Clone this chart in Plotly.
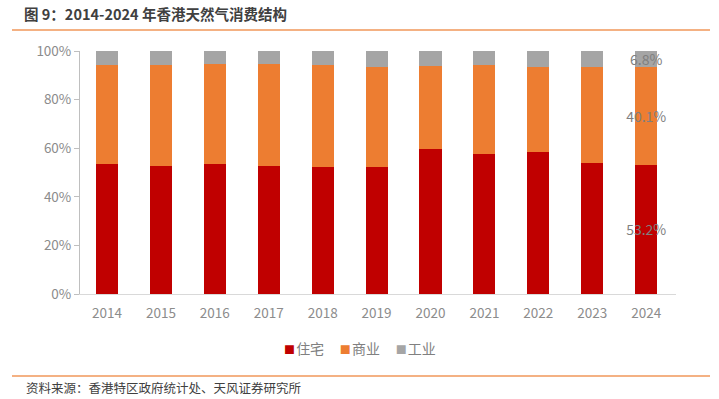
import plotly.graph_objects as go

years = ["2014", "2015", "2016", "2017", "2018", "2019", "2020", "2021", "2022", "2023", "2024"]
residential = [53.4, 52.7, 53.6, 52.7, 52.3, 52.3, 59.7, 57.7, 58.4, 53.9, 53.2]
commercial = [40.8, 41.4, 41.2, 42.0, 41.9, 41.2, 34.1, 36.5, 35.1, 39.6, 40.1]
industrial = [5.8, 5.9, 5.2, 5.3, 5.8, 6.5, 6.2, 5.8, 6.5, 6.5, 6.8]
names = ["住宅", "商业", "工业"]
colors = ["#C00000", "#ED7D31", "#A5A5A5"]
y_ticks = [0, 20, 40, 60, 80, 100]
y_tick_labels = ["0%", "20%", "40%", "60%", "80%", "100%"]

FONT = "Noto Sans CJK SC, Noto Sans, sans-serif"
series = [residential, commercial, industrial]

fig = go.Figure()
for name, vals, col in zip(names, series, colors):
    fig.add_trace(go.Bar(
        x=years, y=vals, name=name, marker=dict(color=col, line=dict(width=0)),
        hoverinfo="skip", showlegend=False,
    ))

# data labels for the last year, centred on each stacked segment
label_y, label_text = [], []
base = 0.0
for vals in series:
    v = vals[-1]
    label_y.append(base + v / 2 - 1)
    label_text.append(f"{v:.1f}%")
    base += v
fig.add_trace(go.Scatter(
    x=[years[-1]] * len(label_y), y=label_y, mode="text", text=label_text,
    textposition="middle center", textfont=dict(size=14, color="#7f7f7f", family=FONT),
    hoverinfo="skip", showlegend=False, cliponaxis=False,
))

annotations = []
# legend built from names/colors
legend_html = "     ".join(
    f"<span style='color:{c};font-size:11px'>■</span><span style='font-size:5px'> </span>"
    f"<span style='font-size:14px'>{n}</span>"
    for n, c in zip(names, colors))
annotations.append(dict(
    text=legend_html, xref="paper", yref="paper", x=(360 - 80) / 596, y=(294 - 348) / 243,
    xanchor="center", yanchor="middle", showarrow=False,
    font=dict(size=14, color="#808080", family=FONT)))

annotations.append(dict(
    text="<b>图 9：2014-2024 年香港天然气消费结构</b>", xref="paper", yref="paper",
    x=(22 - 80) / 596, y=(294 - 13) / 243, xanchor="left", yanchor="middle", showarrow=False,
    font=dict(size=14.5, color="#404040", family=FONT)))
annotations.append(dict(
    text="资料来源：香港特区政府统计处、天风证券研究所", xref="paper", yref="paper",
    x=(24 - 80) / 596, y=(294 - 387) / 243, xanchor="left", yanchor="middle", showarrow=False,
    font=dict(size=12.5, color="#404040", family=FONT)))

fig.update_layout(
    barmode="stack",
    bargap=0.59,
    width=719, height=399,
    margin=dict(l=80, r=43, t=51, b=105),
    paper_bgcolor="white", plot_bgcolor="white",
    font=dict(family=FONT, color="#808080", size=13),
    showlegend=False,
    xaxis=dict(type="category", showline=True, linecolor="#d9d9d9", linewidth=1,
               ticks="outside", ticklen=7, tickcolor="rgba(0,0,0,0)",
               showgrid=False, tickfont=dict(size=13.5, color="#8c8c8c")),
    yaxis=dict(range=[0, 100], tickvals=y_ticks, ticktext=y_tick_labels, showgrid=False,
               showline=True, linecolor="#bfbfbf", linewidth=1, ticks="outside",
               ticklen=5, tickcolor="#bfbfbf",
               tickfont=dict(size=13.5, color="#8c8c8c")),
    annotations=annotations,
    shapes=[
        dict(type="line", xref="paper", yref="paper", x0=(12 - 80) / 596, x1=(710 - 80) / 596,
             y0=(294 - 30) / 243, y1=(294 - 30) / 243, line=dict(color="#F4B183", width=2)),
        dict(type="line", xref="paper", yref="paper", x0=(12 - 80) / 596, x1=(710 - 80) / 596,
             y0=(294 - 376) / 243, y1=(294 - 376) / 243, line=dict(color="#F4B183", width=2)),
    ],
)

fig.write_html("out.html", config={"displayModeBar": False},
               post_script="document.body.style.margin='0';")
